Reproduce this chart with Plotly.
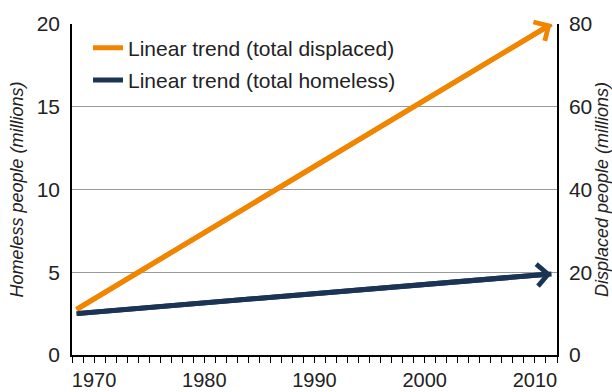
import plotly.graph_objects as go

# Linear trend end points (start year, end year)
trend_years = [1968.4, 2011.5]
homeless_millions = [2.5, 4.9]      # left axis
displaced_millions = [11.0, 80.0]   # right axis

year_ticks = [1970, 1980, 1990, 2000, 2010]
homeless_ticks = [0, 5, 10, 15, 20]
displaced_ticks = [0, 20, 40, 60, 80]

ORANGE = "#F28500"
NAVY = "#1B3456"
TEXT = "#222222"
FONT = "Liberation Sans, Arial, sans-serif"
LW = 5

fig = go.Figure()

fig.add_trace(go.Scatter(
    x=trend_years, y=displaced_millions, yaxis="y2", mode="lines",
    name="Linear trend (total displaced)", legendgroup="displaced",
    line=dict(color=ORANGE, width=LW),
))
fig.add_trace(go.Scatter(
    x=trend_years, y=homeless_millions, yaxis="y", mode="lines",
    name="Linear trend (total homeless)", legendgroup="homeless",
    line=dict(color=NAVY, width=LW),
))

# Arrowheads at the end of each trend line
for yref, vals, col in (("y2", displaced_millions, ORANGE), ("y", homeless_millions, NAVY)):
    fig.add_annotation(
        x=trend_years[-1], y=vals[-1], xref="x", yref=yref,
        ax=trend_years[0], ay=vals[0], axref="x", ayref=yref,
        text="", showarrow=True, arrowhead=4, arrowsize=0.85,
        arrowwidth=LW, arrowcolor=col, standoff=0,
    )

fig.update_layout(
    width=612, height=392,
    margin=dict(l=72, r=55, t=24, b=37, autoexpand=False),
    paper_bgcolor="white", plot_bgcolor="white",
    font=dict(family=FONT, size=21, color=TEXT),
    showlegend=True,
    legend=dict(
        x=0.033, y=0.989, xanchor="left", yanchor="top",
        bgcolor="rgba(0,0,0,0)", font=dict(size=21, color=TEXT),
        tracegroupgap=2, itemwidth=30,
    ),
    xaxis=dict(
        range=[1968, 2012], tickvals=year_ticks, automargin=False,
        ticks="outside", ticklen=6, tickcolor="black", tickwidth=1,
        minor=dict(ticks="outside", dtick=1, tick0=1968, ticklen=6,
                   tickcolor="black", tickwidth=1, showgrid=False),
        showline=True, linecolor="black", linewidth=1.5,
        showgrid=False, zeroline=False,
        tickfont=dict(size=20, color=TEXT),
    ),
    yaxis=dict(
        range=[0, 20], tickvals=homeless_ticks, automargin=False,
        showline=True, linecolor="black", linewidth=1.5,
        showgrid=True, gridcolor="#9a9a9a", gridwidth=1,
        zeroline=False, ticks="", ticklabelstandoff=6,
        tickfont=dict(size=21, color=TEXT),
        title=dict(text="<i>Homeless people (millions)</i>",
                   font=dict(size=18, color=TEXT), standoff=8),
    ),
    yaxis2=dict(
        range=[0, 80], tickvals=displaced_ticks, automargin=False,
        overlaying="y", side="right", anchor="x",
        showline=True, linecolor="black", linewidth=1.5,
        showgrid=False, zeroline=False, ticks="", ticklabelstandoff=6,
        tickfont=dict(size=21, color=TEXT),
        title=dict(text="<i>Displaced people (millions)</i>",
                   font=dict(size=18, color=TEXT), standoff=8),
    ),
)

fig.write_html("out.html")
